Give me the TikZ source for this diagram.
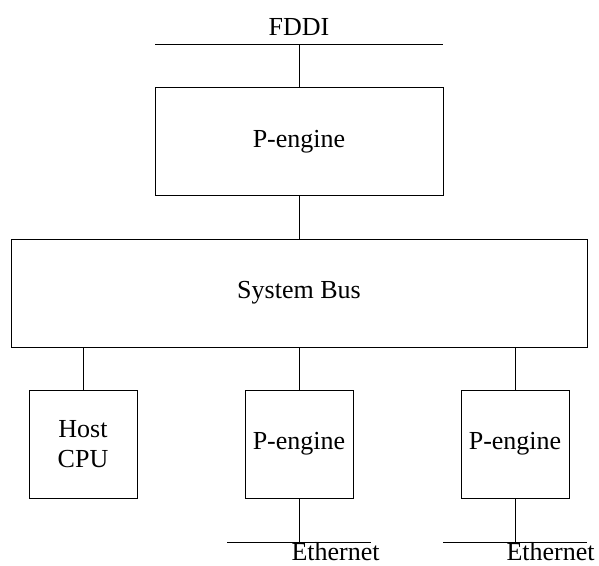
\documentclass[tikz,border=0pt]{standalone}
\usepackage{fontspec}
\setmainfont{Liberation Serif}
\begin{document}
\begin{tikzpicture}[x=1pt,y=-1pt,
  line width=1pt,
  every node/.style={font=\fontsize{26}{30}\selectfont},
  unit/.style={draw, rectangle, inner sep=0pt, align=center},
  smallunit/.style={unit, minimum width=108pt, minimum height=108pt},
  wire/.style={draw}]
  \useasboundingbox (0,0) rectangle (599,565);

  % FDDI ring segment
  \coordinate (fddiL) at (155,44);
  \coordinate (fddiR) at (443,44);
  \draw[wire] (fddiL) -- (fddiR);
  \node[anchor=base] (fddi) at (299,35) {FDDI};

  % upper packet engine and the system bus
  \node[unit, minimum width=288pt, minimum height=107.5pt] (ptop) at (299,141.5) {P-engine};
  \node[unit, minimum width=576pt, minimum height=108pt] (bus) at (299,293) {System Bus};

  % lower units
  \node[smallunit] (host) at (83,444) {Host\\CPU};
  \node[smallunit] (pmid) at (299,444) {P-engine};
  \node[smallunit] (pright) at (515,444) {P-engine};

  % Ethernet segments
  \coordinate (ethAL) at (227,542);
  \coordinate (ethAR) at (371,542);
  \coordinate (ethBL) at (443,542);
  \coordinate (ethBR) at (587,542);
  \draw[wire] (ethAL) -- (ethAR);
  \draw[wire] (ethBL) -- (ethBR);
  \node[anchor=base west, inner sep=0pt] (ethA) at (291,560.5) {Ethernet};
  \node[anchor=base west, inner sep=0pt] (ethB) at (506,560.5) {Ethernet};

  % connections
  \draw[wire] (ptop.north) -- (ptop.north |- fddiL);
  \draw[wire] (ptop.south) -- (bus.north);
  \draw[wire] (host.north) -- (host.north |- bus.south);
  \draw[wire] (pmid.north) -- (pmid.north |- bus.south);
  \draw[wire] (pright.north) -- (pright.north |- bus.south);
  \draw[wire] (pmid.south) -- (pmid.south |- ethAL);
  \draw[wire] (pright.south) -- (pright.south |- ethBL);
\end{tikzpicture}
\end{document}
